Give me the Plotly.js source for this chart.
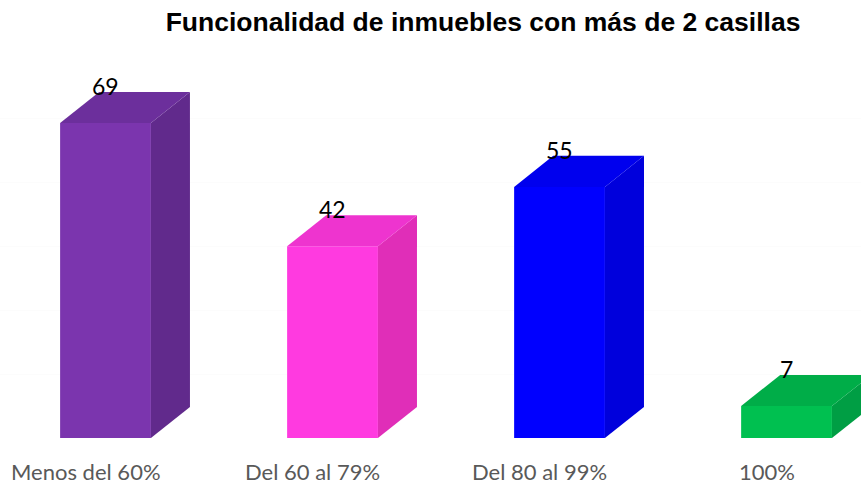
<!DOCTYPE html>
<html>
<head>
<meta charset="utf-8">
<script src="https://cdn.plot.ly/plotly-3.0.1.min.js"></script>
<style>
  html, body { margin: 0; padding: 0; background: #fff; }
  #plot { width: 861px; height: 484px; }
</style>
</head>
<body>
<div id="plot"></div>
<script>
// chart data
const categories = ["Menos del 60%", "Del 60 al 79%", "Del 80 al 99%", "100%"];
const values = [69, 42, 55, 7];
const frontColors = ["#7b35ae", "#ff3ae0", "#0000ff", "#00c050"];
const sideColors = ["#612a8c", "#e02eb8", "#0000dc", "#009e44"];
const topColors = ["#6c2f9c", "#ee34cf", "#0000ee", "#00ad48"];

// fake 3d look: depth of the boxes in axis units
const halfW = 0.2;
const depthX = 0.172;
const depthY = 6.8;

const xs = categories.map((_, i) => i);

const traces = [];

// front faces
traces.push({
  type: "bar",
  x: xs,
  y: values,
  width: halfW * 2,
  marker: { color: frontColors, line: { width: 0 } },
  hoverinfo: "skip",
});

// side and top faces
values.forEach((v, i) => {
  const r = i + halfW;
  const l = i - halfW;
  traces.push({
    type: "scatter",
    mode: "lines",
    x: [r, r + depthX, r + depthX, r, r],
    y: [0, depthY, v + depthY, v, 0],
    fill: "toself",
    fillcolor: sideColors[i],
    line: { width: 0, color: sideColors[i] },
    hoverinfo: "skip",
  });
  traces.push({
    type: "scatter",
    mode: "lines",
    x: [l, l + depthX, r + depthX, r, l],
    y: [v, v + depthY, v + depthY, v, v],
    fill: "toself",
    fillcolor: topColors[i],
    line: { width: 0, color: topColors[i] },
    hoverinfo: "skip",
  });
});

const annotations = [];
values.forEach((v, i) => {
  annotations.push({
    x: i, y: v + depthY, xref: "x", yref: "y",
    text: String(v), showarrow: false,
    yanchor: "bottom", yshift: -10,
    font: { family: "Lato, sans-serif", size: 23, color: "#000" },
  });
});
categories.forEach((c, i) => {
  annotations.push({
    x: i - 0.088, y: 0, xref: "x", yref: "y",
    text: c, showarrow: false,
    yanchor: "middle", yshift: -33,
    font: { family: "Lato, sans-serif", size: 22, color: "#595959" },
  });
});

const layout = {
  width: 861,
  height: 484,
  margin: { l: 0, r: 0, t: 60, b: 46 },
  paper_bgcolor: "#fff",
  plot_bgcolor: "#fff",
  showlegend: false,
  title: {
    text: "<b>Funcionalidad de inmuebles con más de 2 casillas</b>",
    x: 0.561, xanchor: "center",
    y: 0.955, yref: "container", yanchor: "middle",
    font: { family: "Liberation Sans, Arial, sans-serif", size: 26.5, color: "#000" },
  },
  xaxis: {
    range: [-0.4648, 3.328],
    showticklabels: false,
    showgrid: false,
    zeroline: false,
    fixedrange: true,
  },
  yaxis: {
    range: [0, 82.8],
    showticklabels: false,
    showgrid: true,
    gridcolor: "#fcfcfc",
    dtick: 14,
    zeroline: false,
    fixedrange: true,
  },
  annotations: annotations,
};

Plotly.newPlot("plot", traces, layout, { displayModeBar: false, staticPlot: true });
</script>
</body>
</html>
